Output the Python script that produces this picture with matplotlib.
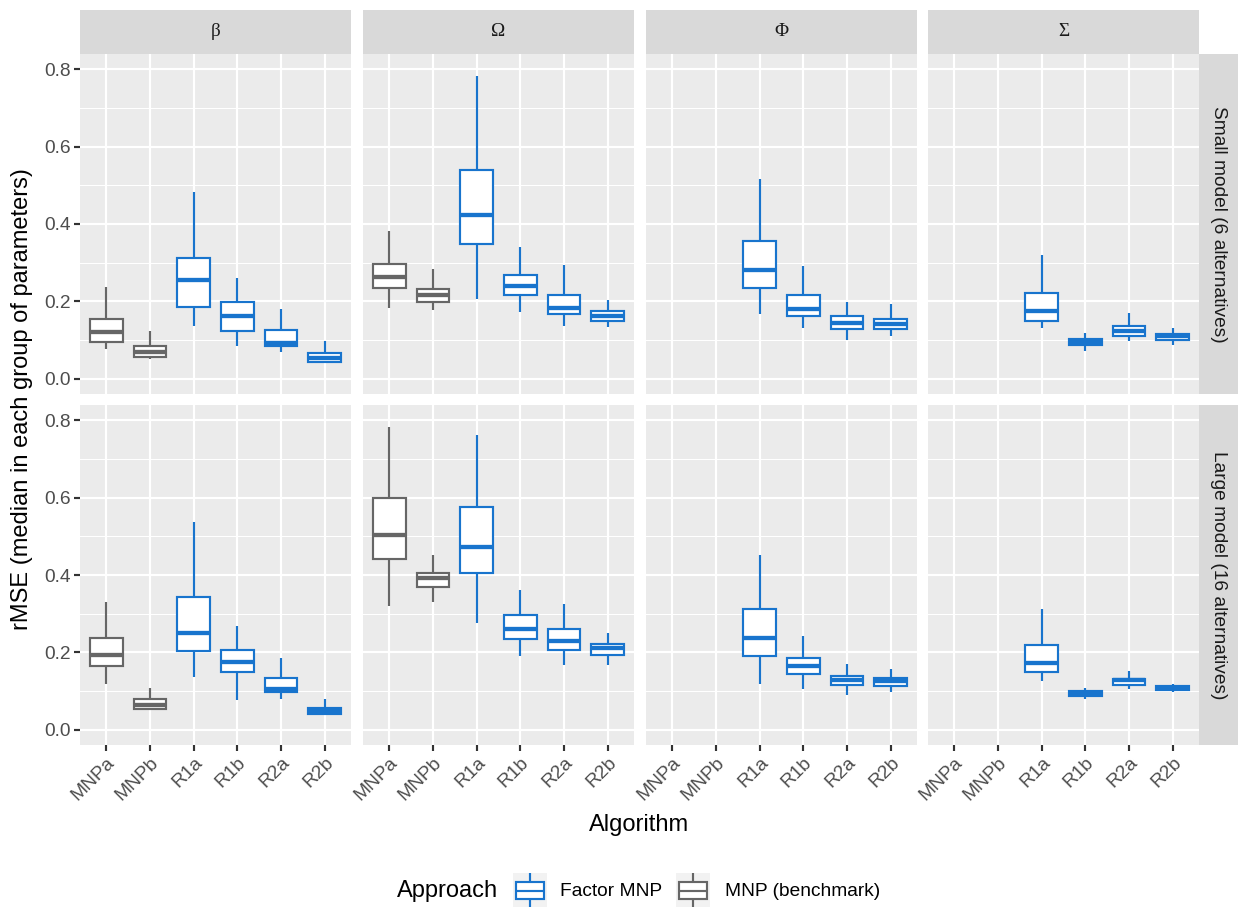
import numpy as np
import matplotlib.pyplot as plt
from matplotlib.patches import Rectangle

plt.rcParams['font.family'] = ['Liberation Sans', 'DejaVu Sans']

# algorithms on the x axis and the approach each belongs to
algorithms = ['MNPa', 'MNPb', 'R1a', 'R1b', 'R2a', 'R2b']
approach = ['MNP (benchmark)', 'MNP (benchmark)', 'Factor MNP', 'Factor MNP', 'Factor MNP', 'Factor MNP']
params = ['β', 'Ω', 'Φ', 'Σ']
models = ['Small model (6 alternatives)', 'Large model (16 alternatives)']

# box stats per algorithm: (whisker low, q1, median, q3, whisker high)
beta_small = [(0.077, 0.094, 0.120, 0.155, 0.236), (0.051, 0.055, 0.068, 0.084, 0.122),
              (0.137, 0.186, 0.254, 0.312, 0.482), (0.084, 0.124, 0.163, 0.198, 0.261),
              (0.068, 0.084, 0.092, 0.126, 0.180), (0.040, 0.043, 0.052, 0.066, 0.097)]
omega_small = [(0.183, 0.234, 0.262, 0.297, 0.383), (0.178, 0.198, 0.215, 0.232, 0.284),
               (0.206, 0.349, 0.424, 0.539, 0.784), (0.172, 0.215, 0.239, 0.268, 0.340),
               (0.137, 0.167, 0.182, 0.217, 0.293), (0.133, 0.150, 0.161, 0.176, 0.204)]
phi_small = [None, None,
             (0.167, 0.234, 0.282, 0.355, 0.517), (0.130, 0.163, 0.180, 0.217, 0.291),
             (0.101, 0.129, 0.143, 0.161, 0.199), (0.111, 0.127, 0.142, 0.153, 0.192)]
sigma_small = [None, None,
               (0.130, 0.150, 0.176, 0.222, 0.321), (0.072, 0.088, 0.094, 0.103, 0.117),
               (0.098, 0.111, 0.124, 0.135, 0.170), (0.087, 0.101, 0.111, 0.116, 0.131)]
beta_large = [(0.119, 0.164, 0.194, 0.237, 0.331), (0.051, 0.054, 0.063, 0.078, 0.108),
              (0.136, 0.203, 0.251, 0.342, 0.536), (0.076, 0.148, 0.175, 0.207, 0.268),
              (0.080, 0.098, 0.104, 0.134, 0.184), (0.038, 0.041, 0.048, 0.057, 0.078)]
omega_large = [(0.320, 0.441, 0.503, 0.600, 0.784), (0.331, 0.369, 0.391, 0.406, 0.453),
               (0.277, 0.406, 0.473, 0.577, 0.762), (0.191, 0.234, 0.261, 0.296, 0.361),
               (0.168, 0.205, 0.229, 0.260, 0.326), (0.166, 0.192, 0.211, 0.221, 0.251)]
phi_large = [None, None,
             (0.119, 0.190, 0.236, 0.311, 0.453), (0.104, 0.143, 0.164, 0.186, 0.242),
             (0.089, 0.115, 0.128, 0.139, 0.169), (0.096, 0.113, 0.125, 0.134, 0.158)]
sigma_large = [None, None,
               (0.126, 0.148, 0.171, 0.218, 0.312), (0.078, 0.087, 0.093, 0.099, 0.108),
               (0.106, 0.115, 0.129, 0.132, 0.151), (0.098, 0.102, 0.108, 0.112, 0.117)]

panel_data = [[beta_small, omega_small, phi_small, sigma_small],
              [beta_large, omega_large, phi_large, sigma_large]]

colors = {'Factor MNP': '#1874CD', 'MNP (benchmark)': '#666666'}

W, H = 1239, 907
fig = plt.figure(figsize=(W / 100, H / 100), dpi=100)


def px_axes(x0, y0, x1, y1):
    return fig.add_axes([x0 / W, 1 - y1 / H, (x1 - x0) / W, (y1 - y0) / H])


col_x = [(80, 351), (363, 634), (646, 917), (928, 1199)]
row_y = [(54, 394), (405, 745)]
lw = 1.55
small_fs = 13.8
title_fs = 17

for r, (y0, y1) in enumerate(row_y):
    for c, (x0, x1) in enumerate(col_x):
        ax = px_axes(x0, y0, x1, y1)
        ax.set_facecolor('#EBEBEB')
        for s in ax.spines.values():
            s.set_visible(False)
        ax.set_xlim(0.4, 6.6)
        ax.set_ylim(-0.04, 0.84)
        ax.set_yticks([0, 0.2, 0.4, 0.6, 0.8])
        ax.set_yticks([0.1, 0.3, 0.5, 0.7], minor=True)
        ax.set_xticks(range(1, 7))
        ax.grid(True, which='major', color='white', linewidth=lw)
        ax.grid(True, which='minor', axis='y', color='white', linewidth=lw / 2)
        ax.set_axisbelow(True)
        ax.tick_params(which='minor', length=0)
        ax.tick_params(which='major', length=4, width=lw, color='#333333',
                       labelcolor='#4D4D4D', labelsize=small_fs, pad=2.5)

        for i, st in enumerate(panel_data[r][c]):
            if st is None:
                continue
            col = colors[approach[i]]
            stats = [dict(whislo=st[0], q1=st[1], med=st[2], q3=st[3], whishi=st[4])]
            ax.bxp(stats, positions=[i + 1], widths=0.75, showcaps=False,
                   showfliers=False, patch_artist=True,
                   boxprops=dict(facecolor='white', edgecolor=col, linewidth=lw),
                   whiskerprops=dict(color=col, linewidth=lw, solid_capstyle='butt'),
                   medianprops=dict(color=col, linewidth=lw * 2, solid_capstyle='butt'),
                   manage_ticks=False)

        if c == 0:
            ax.set_yticklabels(['0.0', '0.2', '0.4', '0.6', '0.8'])
        else:
            ax.tick_params(axis='y', which='major', length=0, labelleft=False)
        if r == 1:
            ax.set_xticklabels(algorithms, rotation=45, ha='right', va='top',
                               rotation_mode='anchor')
        else:
            ax.tick_params(axis='x', length=0, labelbottom=False)

# column strips
for c, (x0, x1) in enumerate(col_x):
    sa = px_axes(x0, 10, x1, 54)
    sa.set_facecolor('#D9D9D9')
    sa.set_xticks([])
    sa.set_yticks([])
    for s in sa.spines.values():
        s.set_visible(False)
    sa.text(0.5, 0.5, params[c], ha='center', va='center', fontsize=small_fs,
            color='#1A1A1A', family=['Liberation Serif', 'DejaVu Serif'],
            transform=sa.transAxes)

# row strips
for r, (y0, y1) in enumerate(row_y):
    sa = px_axes(1199, y0, 1238, y1)
    sa.set_facecolor('#D9D9D9')
    sa.set_xticks([])
    sa.set_yticks([])
    for s in sa.spines.values():
        s.set_visible(False)
    sa.text(0.5, 0.5, models[r], ha='center', va='center', fontsize=small_fs,
            color='#1A1A1A', rotation=-90, transform=sa.transAxes)

fig.text(639.5 / W, 1 - 825 / H, 'Algorithm', ha='center', va='center', fontsize=title_fs)
fig.text(22 / W, 1 - 399.5 / H, 'rMSE (median in each group of parameters)',
         ha='center', va='center', rotation=90, fontsize=title_fs)

# legend
fig.text(397 / W, 1 - 891 / H, 'Approach', ha='left', va='center', fontsize=title_fs)
legend_items = [('Factor MNP', 513, 560), ('MNP (benchmark)', 676, 725)]
for label, kx, tx in legend_items:
    ka = px_axes(kx, 873, kx + 34, 908)
    ka.set_facecolor('#F2F2F2')
    ka.set_xlim(0, 1)
    ka.set_ylim(0, 1)
    ka.set_xticks([])
    ka.set_yticks([])
    for s in ka.spines.values():
        s.set_visible(False)
    col = colors[label]
    ka.add_patch(Rectangle((0.1, 0.25), 0.8, 0.5, facecolor='white', edgecolor=col, linewidth=lw))
    ka.plot([0.1, 0.9], [0.5, 0.5], color=col, linewidth=lw, solid_capstyle='butt')
    ka.plot([0.5, 0.5], [0.75, 1.0], color=col, linewidth=lw, solid_capstyle='butt')
    ka.plot([0.5, 0.5], [0.0, 0.25], color=col, linewidth=lw, solid_capstyle='butt')
    fig.text(tx / W, 1 - 891 / H, label, ha='left', va='center', fontsize=small_fs)

fig.savefig('out.png', dpi=100)
